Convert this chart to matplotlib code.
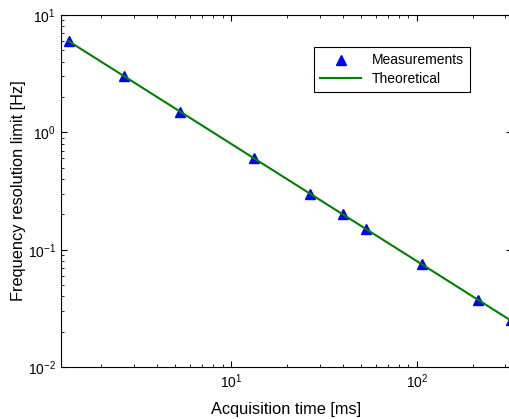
import matplotlib
matplotlib.use('Agg')
import matplotlib.pyplot as plt

plt.rcParams['font.family'] = ['Liberation Sans', 'DejaVu Sans']
plt.rcParams['mathtext.fontset'] = 'custom'
plt.rcParams['mathtext.rm'] = 'Liberation Sans'

# acquisition time [ms] and measured resolution limit [Hz]
acq_time = [1.333, 2.667, 5.333, 13.33, 26.67, 40.0, 53.33, 106.7, 213.3, 320.0]
measured = [6.0, 3.0, 1.5, 0.6, 0.3, 0.2, 0.15, 0.075, 0.0375, 0.025]
theoretical = [6.0, 3.0, 1.5, 0.6, 0.3, 0.2, 0.15, 0.075, 0.0375, 0.025]

fig = plt.figure(figsize=(5.09, 4.19), dpi=100)
# right spine sits just past the image edge, as in the cropped original
ax = fig.add_axes([0.1193, 0.124, 0.8867, 0.840])

ax.plot(acq_time, measured, '^', color='blue', markersize=7, label='Measurements')
ax.plot(acq_time, theoretical, '-', color='green', linewidth=1.5, label='Theoretical')

ax.set_xscale('log')
ax.set_yscale('log')
ax.set_xlim(1.21, 326)
ax.set_ylim(1e-2, 1e1)

ax.tick_params(which='both', direction='in', top=True, right=True, labelsize=10)
ax.tick_params(which='major', length=4)
ax.tick_params(which='minor', length=2)

ax.set_xlabel('Acquisition time [ms]', fontsize=11.8, labelpad=8)
ax.set_ylabel('Frequency resolution limit [Hz]', fontsize=11.8, labelpad=1)

leg = ax.legend(loc='upper right', bbox_to_anchor=(0.907, 0.909), fontsize=10,
                fancybox=False, edgecolor='black', framealpha=1,
                borderpad=0.45, borderaxespad=0, handlelength=2.9,
                labelspacing=0.35)
leg.get_frame().set_linewidth(0.8)

fig.savefig('out.png', dpi=100)
